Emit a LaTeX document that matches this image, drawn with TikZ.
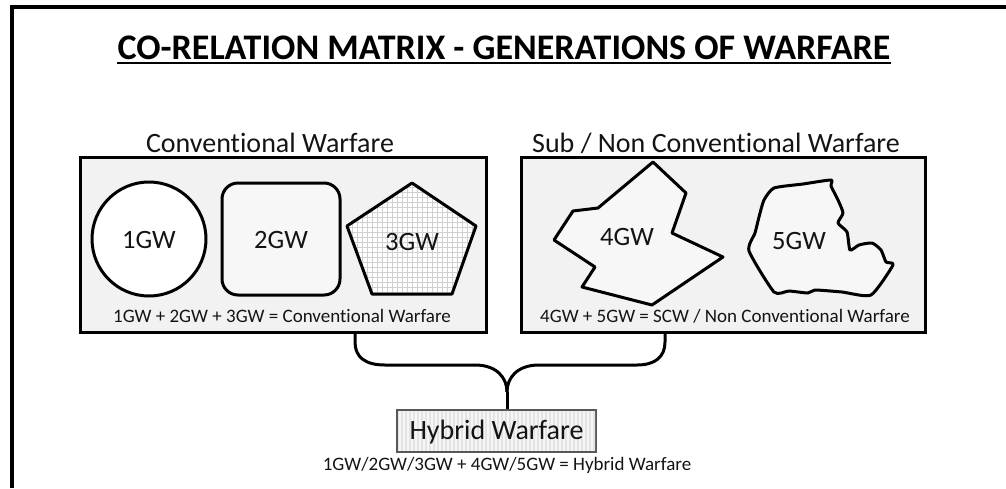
\documentclass[tikz,border=0pt]{standalone}
\usepackage{fontspec}
\setmainfont{Carlito}[Ligatures={NoCommon}]
\usetikzlibrary{calc}
\definecolor{boxfill}{HTML}{F2F2F2}
\definecolor{txt}{HTML}{141414}
\definecolor{gridc}{HTML}{D0D0D0}
\definecolor{hybfill}{HTML}{E4E4E4}
\tikzset{
  panel/.style={draw=black, line width=3pt, fill=boxfill, inner sep=0pt},
  shapeline/.style={draw=black, line width=3pt, line join=round},
  lbl/.style={text=txt, font=\fontsize{28}{32}\selectfont, inner sep=0pt},
  shapelbl/.style={text=txt, font=\fontsize{26.5}{30}\selectfont, inner sep=0pt},
  eqlbl/.style={text=txt, font=\fontsize{19}{22}\selectfont, inner sep=0pt},
  link/.style={draw=black, line width=3pt}
}
\begin{document}
\begin{tikzpicture}[x=1pt,y=-1pt]
\useasboundingbox (0,0) rectangle (1006,488);
% frame
\draw[line width=4pt] (12,488) -- (12,7) -- (1006,7);
% title
\node[font=\bfseries\fontsize{36}{40}\selectfont, inner sep=0pt, anchor=base] (title) at (504,59) {CO-RELATION MATRIX - GENERATIONS OF WARFARE};
\draw[line width=2.5pt] ($(title.base west)+(0,4)$) -- ($(title.base east)+(0,4)$);
% panel labels
\node[lbl] (lcap) at (270,143) {Conventional Warfare};
\node[lbl] (rcap) at (716,143) {Sub / Non Conventional Warfare};
% panels
\node[panel, minimum width=406pt, minimum height=175pt] (lbox) at (283,244.5) {};
\node[panel, minimum width=404pt, minimum height=175pt] (rbox) at (723,244.5) {};
% 1GW
\node[circle, shapeline, fill=white, minimum size=114pt, inner sep=0pt] (g1) at (149,239) {};
\node[shapelbl] (g1t) at (149,240) {1GW};
% 2GW
\node[rectangle, rounded corners=16pt, shapeline, fill=boxfill!60!white, minimum width=118pt, minimum height=112pt, inner sep=0pt] (g2) at (281,239) {};
\node[shapelbl] (g2t) at (281,240) {2GW};
% 3GW pentagon with grid
\begin{scope}
\clip (412,183) -- (476,226) -- (452,294) -- (372,294) -- (347,226) -- cycle;
\fill[white] (340,175) rectangle (480,300);
\foreach \gx in {342,347,...,480} {\draw[gridc, line width=0.8pt] (\gx,175) -- (\gx,300);}
\foreach \gy in {177,182,...,300} {\draw[gridc, line width=0.8pt] (340,\gy) -- (480,\gy);}
\end{scope}
\draw[shapeline] (412,183) -- (476,226) -- (452,294) -- (372,294) -- (347,226) -- cycle;
\node[shapelbl] (g3t) at (412,242) {3GW};
% 4GW
\draw[shapeline, fill=white!97!black] (653,162) -- (686,193) -- (672,233) -- (723,257) -- (652,305) -- (582,287) -- (595,267) -- (554,240) -- (573,211) -- (598,208) -- cycle;
\node[shapelbl] (g4t) at (627,237) {4GW};
% 5GW
\draw[shapeline, fill=white!97!black] plot[smooth cycle, tension=0.35] coordinates {
 (774,188) (803,184) (831,180) (831,186) (838,200) (843,213) (838,223) (847,232) (850,250)
 (859,245) (872,243) (881,250) (886,262) (893,265) (871,295) (842,292) (815,290) (808,293)
 (789,291) (774,292) (749,251) (755,233) (759,217) (764,200)};
\node[shapelbl] (g5t) at (799,241) {5GW};
% equations
\node[eqlbl] (leq) at (282,316) {1GW + 2GW + 3GW = Conventional Warfare};
\node[eqlbl] (req) at (725,316) {4GW + 5GW = SCW / Non Conventional Warfare};
% hybrid
\node[draw=black!65, line width=1.2pt, fill=hybfill, minimum width=199pt, minimum height=42pt, inner sep=0pt] (hyb) at (496.5,431) {};
\begin{scope}
\clip (398,411) rectangle (595,451);
\foreach \xx in {400,404,...,596} {\draw[white, line width=1.2pt, opacity=0.7] (\xx,411) -- (\xx,451);}
\end{scope}
\draw[black!65, line width=1.2pt] (hyb.north west) rectangle (hyb.south east);
\node[lbl] (hybt) at (496.5,432) {Hybrid Warfare};
\node[eqlbl] (heq) at (507,465) {1GW/2GW/3GW + 4GW/5GW = Hybrid Warfare};
% brace connector
\coordinate (la) at (355,0);
\coordinate (ra) at (665,0);
\coordinate (join) at (507,392);
\draw[link, line join=round] (la |- lbox.south) -- (355,342) .. controls (355,357) and (365,365) .. (385,365) -- (475,365) .. controls (497,365) and (507,378) .. (join);
\draw[link, line join=round] (ra |- rbox.south) -- (665,342) .. controls (665,357) and (655,365) .. (637,365) -- (539,365) .. controls (517,365) and (507,378) .. (join);
\draw[link] (join) -- (join |- hyb.north);
\end{tikzpicture}
\end{document}
